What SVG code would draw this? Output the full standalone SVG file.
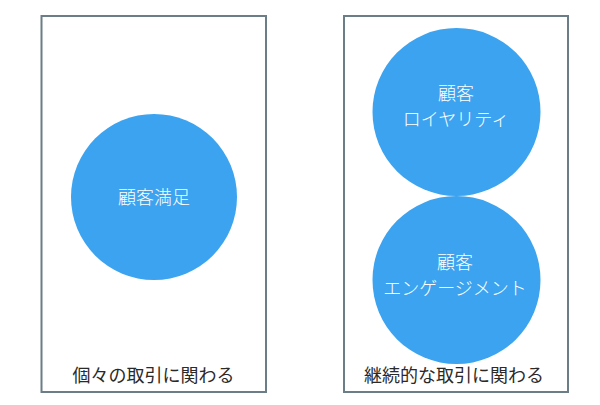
<svg xmlns="http://www.w3.org/2000/svg" width="600" height="405" viewBox="0 0 600 405">
<style>
.frame{fill:#fff;stroke:#6b7d86;stroke-width:2}
.c{fill:#3ba3ef}
.t{font-family:"Noto Sans CJK JP","Noto Sans",sans-serif;fill:#fff;font-size:18px;text-anchor:middle;font-weight:300}
.l{font-family:"Noto Sans CJK JP","Noto Sans",sans-serif;fill:#2a2a2a;font-size:18px;text-anchor:middle}
</style>
<rect width="600" height="405" fill="#fff"/>
<g id="left">
<rect class="frame" x="41.5" y="16" width="224.5" height="376"/>
<text class="l" x="153.5" y="382">個々の取引に関わる</text>
</g>
<g id="right">
<rect class="frame" x="344" y="16" width="224" height="376"/>
<text class="l" x="454" y="382">継続的な取引に関わる</text>
</g>
<g id="satisfaction">
<circle class="c" cx="154" cy="197" r="83"/>
<text class="t" x="154" y="203.5">顧客満足</text>
</g>
<g id="loyalty">
<circle class="c" cx="456.5" cy="112" r="84"/>
<text class="t" x="456" y="99.5"><tspan x="456">顧客</tspan><tspan x="456" dy="26.3">ロイヤリティ</tspan></text>
</g>
<g id="engagement">
<circle class="c" cx="456.5" cy="280" r="84"/>
<text class="t" x="455" y="269"><tspan x="455">顧客</tspan><tspan x="455" dy="26.3">エンゲージメント</tspan></text>
</g>
<g id="connectors"/>
</svg>
